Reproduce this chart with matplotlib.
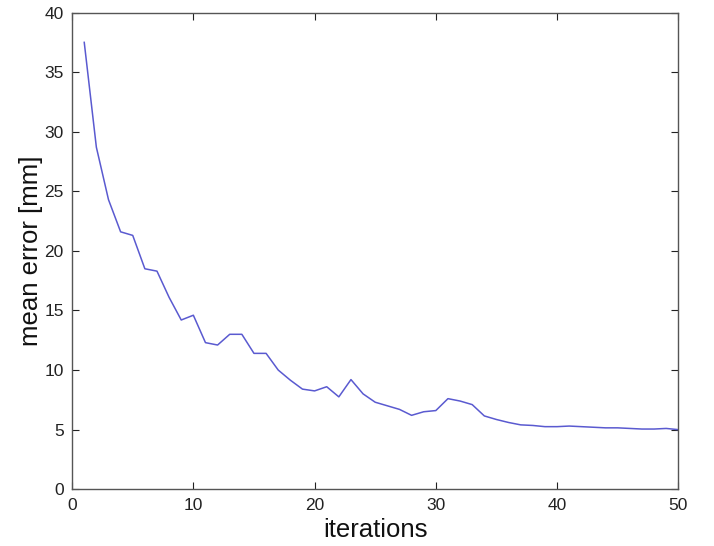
import matplotlib
matplotlib.use("Agg")
import matplotlib.pyplot as plt

# mean error per iteration
iterations = list(range(1, 51))
mean_error = [37.5, 28.7, 24.3, 21.6, 21.3, 18.5, 18.3, 16.1, 14.2, 14.6,
              12.3, 12.1, 13.0, 13.0, 11.4, 11.4, 10.0, 9.15, 8.4, 8.25,
              8.6, 7.75, 9.2, 8.0, 7.3, 7.0, 6.7, 6.2, 6.5, 6.6,
              7.6, 7.4, 7.1, 6.15, 5.85, 5.6, 5.4, 5.35, 5.25, 5.25,
              5.3, 5.25, 5.2, 5.15, 5.15, 5.1, 5.05, 5.05, 5.1, 5.0]

x_ticks = [0, 10, 20, 30, 40, 50]
y_ticks = [0, 5, 10, 15, 20, 25, 30, 35, 40]

plt.rcParams['font.family'] = ['Liberation Sans', 'DejaVu Sans']

fig = plt.figure(figsize=(7.14, 5.46), dpi=100)
ax = fig.add_axes([0.101, 0.104, 0.849, 0.873])

ax.plot(iterations, mean_error, color='#5a5ad0', lw=1.1)

ax.set_xlim(0, 50)
ax.set_ylim(0, 40)
ax.set_xticks(x_ticks)
ax.set_yticks(y_ticks)
ax.tick_params(direction='in', length=5, width=0.8, top=True, right=True,
               labelsize=12.5, colors='#222222', pad=6)
for sp in ax.spines.values():
    sp.set_color('#555555')
    sp.set_linewidth(1.0)

ax.set_xlabel('iterations', fontsize=18.5, color='#111111', labelpad=4)
ax.set_ylabel('mean error [mm]', fontsize=18.5, color='#111111', labelpad=1)

fig.savefig('out.png', dpi=100)
